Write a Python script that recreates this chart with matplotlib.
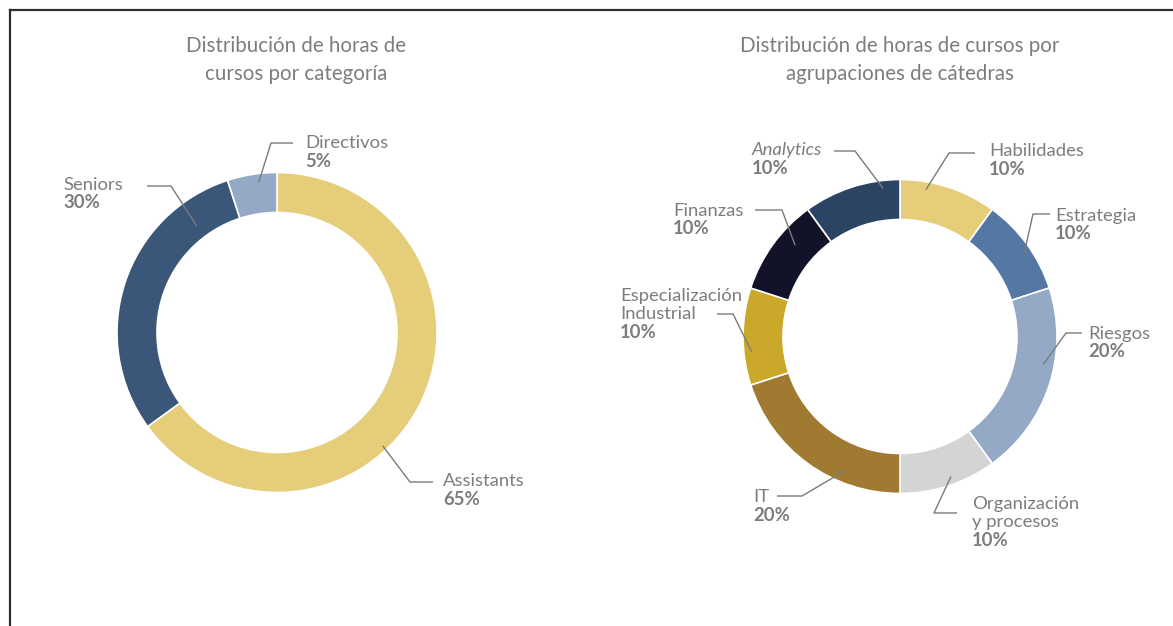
import matplotlib
matplotlib.use("Agg")
import matplotlib.pyplot as plt
from matplotlib.lines import Line2D
import numpy as np

W, H = 1173, 626
DPI = 100

# ---------------- data ----------------
cat_labels = ["Assistants", "Seniors", "Directivos"]
cat_values = [65, 30, 5]
cat_colors = ["#E5CD7A", "#3A5679", "#94A9C6"]

grp_labels = ["Habilidades", "Estrategia", "Riesgos", "Organización\ny procesos",
              "IT", "Especialización\nIndustrial", "Finanzas", "Analytics"]
grp_values = [10, 10, 20, 10, 20, 10, 10, 10]
grp_colors = ["#E5CD7A", "#5577A3", "#94A9C6", "#D4D4D4",
              "#A07A30", "#C9A82A", "#121228", "#2C4463"]
grp_italic = [False, False, False, False, False, False, False, True]

title_left = "Distribución de horas de\ncursos por categoría"
title_right = "Distribución de horas de cursos por\nagrupaciones de cátedras"

# ---------------- layout (image pixel coords, y down) ----------------
# anchor angle (deg), anchor radius, elbow point, line end, text x, first-line center y
left_layout = [
    dict(ang=-47, rad=155, elbow=(410, 482), end=(433, 482), tx=443, ty=480),
    dict(ang=127, rad=133, elbow=(171, 186), end=(147, 186), tx=63, ty=183),
    dict(ang=97, rad=151, elbow=(271, 143), end=(293, 143), tx=305, ty=142),
]
right_layout = [
    dict(ang=80, rad=149, elbow=(949, 153), end=(975, 153), tx=989, ty=150),
    dict(ang=34, rad=150, elbow=(1033, 214), end=(1050, 214), tx=1055, ty=214),
    dict(ang=-11, rad=146, elbow=(1066, 333), end=(1082, 333), tx=1088, ty=332),
    dict(ang=-70, rad=149, elbow=(934, 513), end=(957, 513), tx=972, ty=502),
    dict(ang=-112, rad=144, elbow=(802, 496), end=(777, 496), tx=753, ty=496),
    dict(ang=186, rad=149, elbow=(733, 314), end=(717, 314), tx=620, ty=294),
    dict(ang=139, rad=139, elbow=(782, 210), end=(755, 210), tx=673, ty=209),
    dict(ang=96.5, rad=149, elbow=(855, 151), end=(834, 151), tx=752, ty=149),
]

FONT = "Lato"
TXT_COLOR = "#7d7d7d"
LINE_COLOR = "#7a7a7a"
LSP = 18.5   # line spacing in px
CAP = 6.5    # half cap-height in px
LBL_FS = 13.3
TTL_FS = 14.8

fig = plt.figure(figsize=(W / DPI, H / DPI), dpi=DPI)
fig.patch.set_facecolor("white")
ax = fig.add_axes([0, 0, 1, 1])


def Y(y):
    return H - y


def donut(values, colors, center, radius, width, labels, layout, italic=None):
    cx, cy = center
    ax.pie(values, colors=colors, startangle=90, counterclock=False,
           radius=radius, center=(cx, Y(cy)),
           wedgeprops=dict(width=width, edgecolor="white", linewidth=1.2))
    for i, (lab, val, lay) in enumerate(zip(labels, values, layout)):
        a = np.deg2rad(lay["ang"])
        axp = cx + lay["rad"] * np.cos(a)
        ayp = Y(cy) + lay["rad"] * np.sin(a)
        ex, ey = lay["elbow"]
        nx, ny = lay["end"]
        ax.plot([axp, ex, nx], [ayp, Y(ey), Y(ny)], color=LINE_COLOR, lw=1.0,
                solid_capstyle="butt", zorder=5)
        lines = lab.split("\n")
        style = "italic" if (italic is not None and italic[i]) else "normal"
        for k, ln in enumerate(lines):
            ax.text(lay["tx"], Y(lay["ty"] + k * LSP + CAP), ln, family=FONT,
                    fontsize=LBL_FS, color=TXT_COLOR, style=style,
                    ha="left", va="baseline")
        ax.text(lay["tx"], Y(lay["ty"] + len(lines) * LSP + CAP), f"{val}%",
                family=FONT, fontsize=LBL_FS, fontweight="bold", color=TXT_COLOR,
                ha="left", va="baseline")


donut(cat_values, cat_colors, (277, 332.5), 160, 40, cat_labels, left_layout)
donut(grp_values, grp_colors, (900, 336.5), 157, 40, grp_labels, right_layout,
      italic=grp_italic)

# titles
for tx, title in ((296, title_left), (900, title_right)):
    for k, ln in enumerate(title.split("\n")):
        ax.text(tx, Y(45 + k * 28 + 7), ln, family=FONT, fontsize=TTL_FS,
                color=TXT_COLOR, ha="center", va="baseline")

ax.set_xlim(0, W)
ax.set_ylim(0, H)
ax.set_aspect("auto")
ax.axis("off")

# frame lines (top and left)
fig.add_artist(Line2D([9.5 / W, 1], [1 - 10 / H, 1 - 10 / H],
                      transform=fig.transFigure, color="#2e2e2e", lw=1.6))
fig.add_artist(Line2D([9.5 / W, 9.5 / W], [0, 1 - 10 / H],
                      transform=fig.transFigure, color="#2e2e2e", lw=1.6))

fig.savefig("out.png", dpi=DPI, facecolor="white")
